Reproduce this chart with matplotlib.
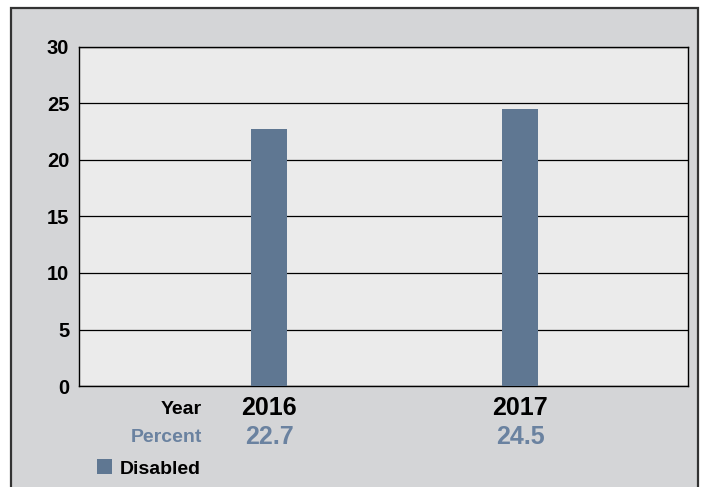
import matplotlib
matplotlib.use("Agg")
import matplotlib.pyplot as plt
from matplotlib.patches import Rectangle
from matplotlib import font_manager

years = ["2016", "2017"]
percent = [22.7, 24.5]
yticks = [0, 5, 10, 15, 20, 25, 30]
series_name = "Disabled"

bar_color = "#5f7792"
value_color = "#6a82a0"
panel_bg = "#d4d5d7"
plot_bg = "#ebebeb"

names = {f.name for f in font_manager.fontManager.ttflist}
font = [n for n in ["Liberation Sans Narrow", "Liberation Sans", "DejaVu Sans"]
        if n in names]

W, H = 709, 487
fig = plt.figure(figsize=(W / 100, H / 100), dpi=100)
fig.patch.set_facecolor("white")

# grey panel with a dark frame, running off the bottom edge
fig.patches.append(Rectangle((11 / W, -0.05), 687 / W, 1 - 8 / H + 0.05,
                             transform=fig.transFigure, facecolor=panel_bg,
                             edgecolor="#333333", linewidth=1.6, zorder=-5))

ax = fig.add_axes([79 / W, 1 - 386 / H, 609 / W, 339 / H])
ax.set_zorder(2)
ax.set_facecolor(plot_bg)

xs = range(len(years))
ax.bar(xs, percent, width=0.143, color=bar_color, zorder=3)

ax.set_xlim(-0.757, 1.669)
ax.set_ylim(0, 30)
ax.set_yticks(yticks)
ax.set_yticklabels([str(t) for t in yticks], family=font, fontweight="bold",
                   fontsize=14.5)
ax.tick_params(axis="y", length=0, pad=7)
ax.set_xticks([])
ax.grid(axis="y", color="black", linewidth=0.9, zorder=1)
for s in ax.spines.values():
    s.set_color("black")
    s.set_linewidth(1.0)

# year / percent table under the axis
lab_x = 202 / W
fig.text(lab_x, 1 - 410 / H, "Year", ha="right", va="center", family=font,
         fontweight="bold", fontsize=14, color="black")
fig.text(lab_x, 1 - 438 / H, "Percent", ha="right", va="center", family=font,
         fontweight="bold", fontsize=14, color=value_color)
for i, (yr, v) in enumerate(zip(years, percent)):
    xf = ax.transData.transform((i, 0))
    xf = fig.transFigure.inverted().transform(xf)[0]
    fig.text(xf, 1 - 408 / H, yr, ha="center", va="center", family=font,
             fontweight="bold", fontsize=18, color="black")
    fig.text(xf, 1 - 437 / H, f"{v}", ha="center", va="center", family=font,
             fontweight="bold", fontsize=18, color=value_color)

# legend
fig.patches.append(Rectangle((97 / W, 1 - 474 / H), 15 / W, 15 / H,
                             transform=fig.transFigure, facecolor=bar_color,
                             edgecolor="none"))
fig.text(120 / W, 1 - 469 / H, series_name, ha="left", va="center",
         family=font, fontweight="bold", fontsize=14, color="black")

fig.savefig("out.png", dpi=100)
